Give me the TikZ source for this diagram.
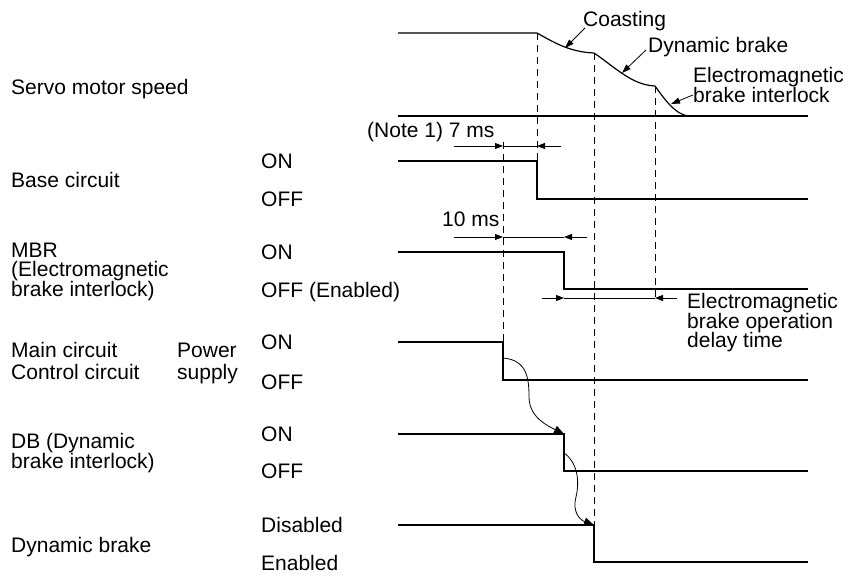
\documentclass[tikz,border=0pt]{standalone}
\usepackage{fontspec}
\setmainfont{Liberation Sans}
\usetikzlibrary{arrows.meta}
\begin{document}
\begin{tikzpicture}[x=1pt,y=-1pt,
  lbl/.style={anchor=base west,inner sep=0pt,font=\fontsize{21}{19.5}\selectfont},
  wave/.style={line width=1.2pt,line join=miter},
  guide/.style={line width=0.9pt,dash pattern=on 7pt off 5pt},
  dimarrow/.style={line width=0.9pt,-{Triangle[length=8pt,width=6pt]}},
  dimline/.style={line width=0.9pt},
  cause/.style={line width=0.8pt,-{Triangle[length=10pt,width=8pt]}},
  pointer/.style={line width=0.8pt,-{Triangle[length=9pt,width=6pt]}}]
\useasboundingbox (0,0) rectangle (860,577);

% ---- left labels
\node[lbl] (speed) at (11,95) {Servo motor speed};
\node[lbl] (base) at (11,188) {Base circuit};
\node[lbl] (mbrA) at (11,258) {MBR};
\node[lbl] (mbrB) at (11,277) {(Electromagnetic};
\node[lbl] (mbrC) at (11,297) {brake interlock)};
\node[lbl] (mainA) at (11,358) {Main circuit};
\node[lbl] (mainB) at (11,380) {Control circuit};
\node[lbl] (pwA) at (177,358) {Power};
\node[lbl] (pwB) at (177,380) {supply};
\node[lbl] (dbA) at (11,448) {DB (Dynamic};
\node[lbl] (dbB) at (11,468) {brake interlock)};
\node[lbl] (dbk) at (11,552) {Dynamic brake};

% ---- state labels
\node[lbl] (s1) at (261,169) {ON};
\node[lbl] (s2) at (261,207) {OFF};
\node[lbl] (s3) at (261,260) {ON};
\node[lbl] (s4) at (261,298) {OFF (Enabled)};
\node[lbl] (s5) at (261,350) {ON};
\node[lbl] (s6) at (261,390) {OFF};
\node[lbl] (s7) at (261,441) {ON};
\node[lbl] (s8) at (261,478) {OFF};
\node[lbl] (s9) at (261,532) {Disabled};
\node[lbl] (s10) at (261,570) {Enabled};

% ---- servo motor speed
\draw[wave] (398,33) -- (537,33)
  .. controls (558,45) and (572,52) .. (594,53)
  .. controls (616,68) and (632,85) .. (655,86)
  .. controls (665,100) and (675,114) .. (688,116);
\draw[wave] (398,116) -- (808,116);

% ---- base circuit
\draw[wave] (398,161) -- (537,161) -- (537,199) -- (808,199);
% ---- MBR
\draw[wave] (398,252) -- (564,252) -- (564,289) -- (808,289);
% ---- main / control power
\draw[wave] (398,342) -- (503,342) -- (503,380) -- (808,380);
% ---- DB
\draw[wave] (398,434) -- (564,434) -- (564,471) -- (808,471);
% ---- dynamic brake
\draw[wave] (398,525) -- (594,525) -- (594,562) -- (808,562);

% ---- guide lines
\draw[guide] (503,142) -- (503,342);
\draw[guide] (537,33) -- (537,161);
\draw[guide] (594,53) -- (594,525);
\draw[guide] (655,86) -- (655,298);

% ---- 7 ms
\node[lbl] (n7) at (367,138) {(Note 1) 7 ms};
\draw[dimarrow] (454,146) -- (503,146);
\draw[dimline] (503,146) -- (537,146);
\draw[dimarrow] (561,146) -- (537,146);
% ---- 10 ms
\node[lbl] (n10) at (442,227) {10 ms};
\draw[dimarrow] (454,237) -- (503,237);
\draw[dimline] (503,237) -- (564,237);
\draw[dimarrow] (587,237) -- (564,237);
% ---- brake operation delay
\draw[dimarrow] (542,298) -- (564,298);
\draw[dimline] (564,298) -- (655,298);
\draw[dimarrow] (677,298) -- (655,298);
\node[lbl] (emA) at (687,309) {Electromagnetic};
\node[lbl] (emB) at (687,328.5) {brake operation};
\node[lbl] (emC) at (687,348) {delay time};

% ---- speed annotations
\node[lbl] (coast) at (583,27) {Coasting};
\node[lbl] (dyn) at (648,53) {Dynamic brake};
\node[lbl] (ebA) at (693,83) {Electromagnetic};
\node[lbl] (ebB) at (693,102.5) {brake interlock};
\draw[pointer] (585,28) -- (565,48);
\draw[pointer] (646,50) -- (622,73);
\draw[pointer] (693,95) -- (671,104);

% ---- causal arrows
\draw[cause] (503,358) .. controls (528,360) and (529,380) .. (529,398)
  .. controls (530,418) and (548,426) .. (564,434);
\draw[cause] (564,453) .. controls (577,462) and (580,480) .. (576,497)
  .. controls (572,512) and (580,520) .. (594,525);
\end{tikzpicture}
\end{document}
